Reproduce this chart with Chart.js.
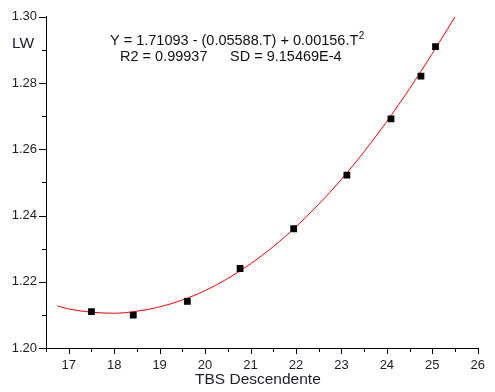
<!DOCTYPE html>
<html>
<head>
<meta charset="utf-8">
<script src="https://cdn.jsdelivr.net/npm/chart.js@4.4.1/dist/chart.umd.min.js"></script>
<style>
  html, body { margin: 0; padding: 0; background: #fff; }
  #chartDiv { width: 495px; height: 392px; }
</style>
</head>
<body>
<div id="chartDiv"><canvas id="myChart"></canvas></div>
<script>
const canvas = document.getElementById('myChart');

// measured points
const tbs = [17.5, 18.42, 19.61, 20.77, 21.95, 23.12, 24.09, 24.75, 25.07];
const lw = [1.211, 1.2099, 1.2141, 1.224, 1.236, 1.2522, 1.2692, 1.2821, 1.291];

// red fitted curve
const fitT = [16.75, 17, 17.5, 18, 18.5, 19, 19.5, 20, 20.5, 21, 21.5, 22, 22.5, 23, 23.5, 24, 24.5, 25, 25.5];
const fitLW = [1.2127, 1.2118, 1.2108, 1.2105, 1.2111, 1.2124, 1.2145, 1.2173, 1.2210, 1.2254, 1.2306,
               1.2366, 1.2434, 1.2509, 1.2593, 1.2684, 1.2783, 1.2889, 1.3000];

const xTicks = [17, 18, 19, 20, 21, 22, 23, 24, 25, 26];
const xMinor = [16.5, 17.5, 18.5, 19.5, 20.5, 21.5, 22.5, 23.5, 24.5, 25.5];
const yTicks = [1.20, 1.22, 1.24, 1.26, 1.28, 1.30];
const yMinor = [1.21, 1.23, 1.25, 1.27, 1.29];

const font = "'Liberation Sans', Arial, sans-serif";

const tickPlugin = {
    id: 'tickMarks',
    afterDraw(chart) {
        const ctx = chart.ctx;
        const xs = chart.scales.x, ys = chart.scales.y;
        const area = chart.chartArea;
        ctx.save();
        ctx.strokeStyle = '#000';
        ctx.lineWidth = 1;
        ctx.beginPath();
        xTicks.forEach(v => {
            const px = Math.round(xs.getPixelForValue(v)) + 0.5;
            ctx.moveTo(px, area.bottom); ctx.lineTo(px, area.bottom + 6);
        });
        xMinor.forEach(v => {
            const px = Math.round(xs.getPixelForValue(v)) + 0.5;
            ctx.moveTo(px, area.bottom); ctx.lineTo(px, area.bottom + 4);
        });
        yTicks.forEach(v => {
            const py = Math.round(ys.getPixelForValue(v)) + 0.5;
            ctx.moveTo(area.left, py); ctx.lineTo(area.left - 7, py);
        });
        yMinor.forEach(v => {
            const py = Math.round(ys.getPixelForValue(v)) + 0.5;
            ctx.moveTo(area.left, py); ctx.lineTo(area.left - 4, py);
        });
        ctx.stroke();

        // titles and fit text
        ctx.fillStyle = '#1c1c28';
        ctx.textBaseline = 'middle';
        ctx.font = '15.5px ' + font;
        ctx.textAlign = 'left';
        ctx.fillText('LW', 12, 44);
        ctx.textAlign = 'center';
        ctx.fillText('TBS Descendente', (area.left + area.right) / 2 - 4, 380);

        ctx.fillStyle = '#111';
        ctx.textAlign = 'left';
        ctx.font = '14.5px ' + font;
        const line1 = 'Y = 1.71093 - (0.05588.T) + 0.00156.T';
        ctx.fillText(line1, 110, 41);
        const w1 = ctx.measureText(line1).width;
        ctx.font = '10px ' + font;
        ctx.fillText('2', 110 + w1 + 0.5, 36);
        ctx.font = '14.5px ' + font;
        ctx.fillText('R2 = 0.99937', 120, 57);
        ctx.fillText('SD = 9.15469E-4', 230, 57);
        ctx.restore();
    }
};

const config = {
    type: 'scatter',
    data: {
        datasets: [{
            label: 'fit',
            type: 'line',
            data: fitT.map((t, i) => ({ x: t, y: fitLW[i] })),
            borderColor: '#ff0000',
            borderWidth: 1,
            pointRadius: 0,
            cubicInterpolationMode: 'monotone',
            fill: false,
            order: 2
        }, {
            label: 'LW',
            data: tbs.map((t, i) => ({ x: t, y: lw[i] })),
            backgroundColor: '#000',
            borderColor: '#000',
            borderWidth: 0,
            pointStyle: 'rect',
            pointRadius: 4.8,
            order: 1
        }]
    },
    options: {
        responsive: true,
        maintainAspectRatio: false,
        animation: false,
        events: [],
        layout: { padding: { top: 14, right: 5, left: 0, bottom: 0 } },
        plugins: { legend: { display: false }, tooltip: { enabled: false } },
        scales: {
            x: {
                type: 'linear',
                min: 16.5,
                max: 26,
                afterBuildTicks: s => { s.ticks = xTicks.map(v => ({ value: v })); },
                afterFit: s => { s.height = 44; },
                grid: { display: false, drawTicks: false },
                border: { display: true, color: '#000', width: 1 },
                ticks: {
                    font: { family: font, size: 13 },
                    color: '#1c1c28',
                    padding: 10,
                    maxRotation: 0,
                    autoSkip: false,
                    callback: v => String(v)
                }
            },
            y: {
                min: 1.20,
                max: 1.30,
                afterBuildTicks: s => { s.ticks = yTicks.map(v => ({ value: v })); },
                afterFit: s => { s.width = 46; },
                grid: { display: false, drawTicks: false },
                border: { display: true, color: '#000', width: 1 },
                ticks: {
                    font: { family: font, size: 13 },
                    color: '#1c1c28',
                    padding: 9,
                    autoSkip: false,
                    callback: v => v.toFixed(2)
                }
            }
        }
    },
    plugins: [tickPlugin]
};

const myChart = new Chart(canvas, config);
</script>
</body>
</html>
